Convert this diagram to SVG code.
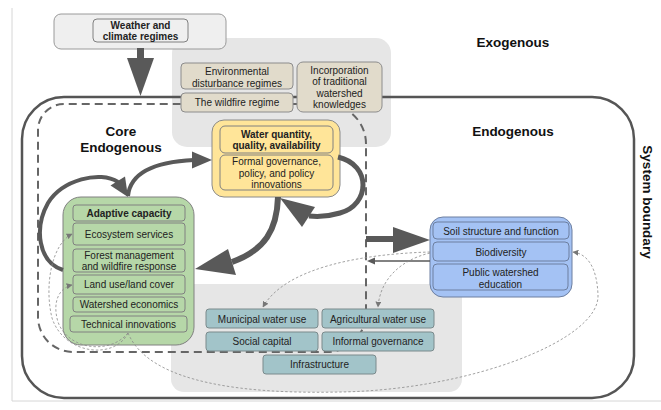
<svg xmlns="http://www.w3.org/2000/svg" width="661" height="410" viewBox="0 0 661 410">
<style>
text{font-family:"Liberation Sans",Arial,sans-serif;font-size:10px;fill:#222;text-anchor:middle}
.b{font-weight:bold}
.lbl{font-weight:bold;font-size:13.5px;fill:#111}
.inner{stroke:#808080;stroke-width:1}
.tan{fill:#e1dbcb;stroke:#8c8c8c;stroke-width:1}
.teal{fill:#a2c4c9;stroke:#7a8a8c;stroke-width:1}
.thick{fill:none;stroke:#595959}
.head{fill:#595959}
.dash{fill:none;stroke:#8a8a8a;stroke-width:0.8;stroke-dasharray:2.5 2}
</style>
<defs>
<marker id="sm" viewBox="0 0 10 10" refX="9" refY="5" markerWidth="6" markerHeight="6" markerUnits="userSpaceOnUse" orient="auto">
<path d="M0,0 L10,5 L0,10 Z" fill="#777"/>
</marker>
</defs>
<rect width="661" height="410" fill="#fff"/>
<g id="frame">
<path d="M12,8 V401 H661" fill="none" stroke="#d6d6d6" stroke-width="1"/>
</g>
<g id="regions">
<rect x="172" y="38" width="219" height="109" rx="15" fill="#e6e6e6"/>
<rect x="171" y="284" width="291" height="108" rx="13" fill="#e6e6e6"/>
<rect id="system-boundary" x="22" y="97" width="612" height="301" rx="42" fill="none" stroke="#555" stroke-width="2.5"/>
<path id="core-boundary" d="M366,144 A40,40 0 0 0 326,104 H64 A26,26 0 0 0 38,130 V317 A35,35 0 0 0 73,352 H327 A39,39 0 0 0 366,313 Z" fill="none" stroke="#666" stroke-width="2" stroke-dasharray="8 5"/>
</g>
<g id="labels">
<text class="lbl" x="513" y="47">Exogenous</text>
<text class="lbl" x="513" y="136">Endogenous</text>
<text class="lbl" x="121" y="136">Core</text>
<text class="lbl" x="121" y="152">Endogenous</text>
<text class="lbl" transform="translate(643,202) rotate(90)" x="0" y="0">System boundary</text>
</g>
<g id="weather">
<rect x="54" y="14" width="172" height="35" rx="7" fill="#efefef" stroke="#9a9a9a"/>
<rect x="93" y="19" width="95" height="23" rx="4" fill="#efefef" class="inner"/>
<text class="b" x="140.5" y="28.5">Weather and</text>
<text class="b" x="140.5" y="39.5">climate regimes</text>
</g>
<g id="disturbance">
<rect class="tan" x="181" y="63" width="112" height="26" rx="4"/>
<text x="237" y="74.5">Environmental</text>
<text x="237" y="86.5">disturbance regimes</text>
</g>
<g id="wildfire">
<rect class="tan" x="181" y="93" width="112" height="19" rx="4"/>
<text x="237" y="105.5">The wildfire regime</text>
</g>
<g id="traditional">
<rect class="tan" x="297" y="62" width="85" height="50" rx="6"/>
<text x="339.5" y="73.5">Incorporation</text>
<text x="339.5" y="85">of traditional</text>
<text x="339.5" y="96.5">watershed</text>
<text x="339.5" y="108">knowledges</text>
</g>
<g id="water">
<rect x="212" y="120" width="128" height="77" rx="12" fill="#ffe599" stroke="#8a8a8a"/>
<rect x="220" y="126" width="113" height="27" rx="5" fill="#ffe599" class="inner"/>
<text class="b" x="276.5" y="137.5">Water quantity,</text>
<text class="b" x="276.5" y="149">quality, availability</text>
<rect x="220" y="155" width="113" height="35" rx="5" fill="#ffe599" class="inner"/>
<text x="276.5" y="164.5">Formal governance,</text>
<text x="276.5" y="176.5">policy, and policy</text>
<text x="276.5" y="188">innovations</text>
</g>
<g id="adaptive">
<rect x="63" y="197" width="131" height="148" rx="18" fill="#b6d7a8" stroke="#808080"/>
<rect x="73" y="205" width="112" height="16" rx="3" fill="#b6d7a8" class="inner"/>
<text class="b" x="129" y="216.5">Adaptive capacity</text>
<rect x="73" y="223" width="112" height="22" rx="3" fill="#b6d7a8" class="inner"/>
<text x="129" y="237.5">Ecosystem services</text>
<rect x="73" y="249" width="112" height="23" rx="3" fill="#b6d7a8" class="inner"/>
<text x="129" y="258.5">Forest management</text>
<text x="129" y="270">and wildfire response</text>
<rect x="73" y="275" width="112" height="19" rx="3" fill="#b6d7a8" class="inner"/>
<text x="129" y="287.5">Land use/land cover</text>
<rect x="73" y="297" width="112" height="15" rx="3" fill="#b6d7a8" class="inner"/>
<text x="129" y="308">Watershed economics</text>
<rect x="70" y="316" width="117" height="16" rx="3" fill="#b6d7a8" class="inner"/>
<text x="128.5" y="327.5">Technical innovations</text>
</g>
<g id="soil">
<rect x="430" y="217" width="142" height="80" rx="13" fill="#a4c2f4" stroke="#6d7fa0"/>
<rect x="433" y="222" width="136" height="17" rx="4" fill="#a4c2f4" stroke="#6d7fa0"/>
<text x="501" y="234.5">Soil structure and function</text>
<rect x="433" y="242" width="136" height="19" rx="4" fill="#a4c2f4" stroke="#6d7fa0"/>
<text x="501" y="255.5">Biodiversity</text>
<rect x="433" y="264" width="135" height="26" rx="4" fill="#a4c2f4" stroke="#6d7fa0"/>
<text x="500.5" y="275.5">Public watershed</text>
<text x="500.5" y="287.5">education</text>
</g>
<g id="municipal"><rect class="teal" x="206" y="309" width="112" height="19" rx="3"/><text x="262" y="322.5">Municipal water use</text></g>
<g id="agricultural"><rect class="teal" x="322" y="309" width="112" height="19" rx="3"/><text x="378" y="322.5">Agricultural water use</text></g>
<g id="social"><rect class="teal" x="206" y="332" width="112" height="19" rx="3"/><text x="262" y="345">Social capital</text></g>
<g id="informal"><rect class="teal" x="322" y="332" width="112" height="19" rx="3"/><text x="378" y="345">Informal governance</text></g>
<g id="infrastructure"><rect class="teal" x="263" y="355" width="113" height="19" rx="3"/><text x="319.5" y="368">Infrastructure</text></g>
<g id="connectors">
<rect class="head" x="137" y="48" width="7" height="12"/>
<polygon class="head" points="127,58 154,58 140.5,96"/>
<path class="thick" stroke-width="4" d="M128,196 C130,175 150,162 194,160"/>
<polygon class="head" points="212,160 192,151.5 192,168.5"/>
<path class="thick" stroke-width="4" d="M63,270 C38,262 34,228 48,203 C62,180 100,170 118,182"/>
<polygon class="head" points="128,197 110.5,185.5 125,176.5"/>
<path class="thick" stroke-width="6" d="M278,197 C277,230 265,250 232,262"/>
<polygon class="head" points="195,269 228,249 236,275"/>
<path class="thick" stroke-width="5" d="M338,157 C372,165 370,205 340,213 C330,216 318,217 309,216"/>
<polygon class="head" points="280,198 302,227 315,207"/>
<rect class="head" x="366" y="236" width="29" height="6"/>
<polygon class="head" points="393,227 393,253 430,240"/>
<line x1="430" y1="261" x2="374" y2="261" stroke="#595959" stroke-width="1.3"/>
<polygon class="head" points="367,261 375,257.5 375,264.5"/>
<path class="dash" marker-end="url(#sm)" d="M430,252 C360,254 285,268 263,307"/>
<path class="dash" marker-end="url(#sm)" d="M430,253 C400,260 380,280 378,307"/>
<path class="dash" marker-end="url(#sm)" d="M128,333 C150,385 250,394 340,392 C470,390 600,340 598,295 C597,268 588,254 573,252"/>
<path class="dash" marker-end="url(#sm)" d="M128,333 C115,360 64,355 52,318 C44,285 52,244 72,234"/>
<path class="dash" marker-end="url(#sm)" d="M128,333 C110,355 68,350 58,322 C52,302 59,288 72,285"/>
</g>
</svg>
